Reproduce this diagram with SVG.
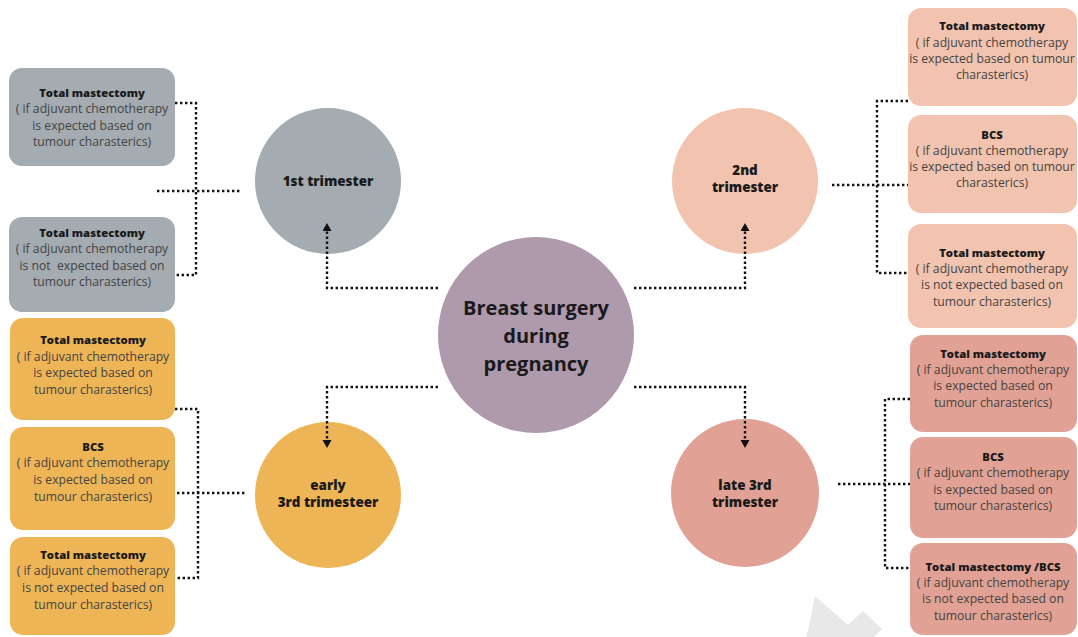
<svg xmlns="http://www.w3.org/2000/svg" width="1078" height="637" viewBox="0 0 1078 637">
<defs>
<marker id="arr" markerUnits="userSpaceOnUse" markerWidth="10" markerHeight="10" refX="0" refY="4.5" orient="auto"><path d="M0,0 L8,4.5 L0,9 z" fill="#111"/></marker>
<style>
.c{stroke:#111;stroke-width:2.4;fill:none;stroke-dasharray:2.4 2.6}
.t{font-family:"Open Sans","Liberation Sans",sans-serif;font-size:12.2px;fill:#444;text-anchor:middle}
.h{font-family:"Open Sans","Liberation Sans",sans-serif;font-size:11.3px;font-weight:800;fill:#1a1a1a;text-anchor:middle}
.ct{font-family:"Open Sans","Liberation Sans",sans-serif;font-size:13.4px;font-weight:800;fill:#1a1a1a;text-anchor:middle}
.mt{font-family:"Open Sans","Liberation Sans",sans-serif;font-size:20px;font-weight:700;fill:#1a1a1a;text-anchor:middle}
.g{fill:#a4abb1}.p{fill:#f2c3ae}.o{fill:#eeb557}.r{fill:#e1a295}
</style>
</defs>
<rect width="1078" height="637" fill="#fff"/>
<polygon points="815,596 848,625 863,611 882,629 874,637 806,637 808,630" fill="#e8e8e8"/>

<g id="center"><circle cx="536" cy="335" r="98" fill="#ae99ad"/>
<text class="mt" x="536" y="315">Breast surgery</text><text class="mt" x="536" y="343">during</text><text class="mt" x="536" y="371">pregnancy</text></g>

<g id="t1"><circle class="g" cx="328" cy="181" r="73"/><text class="ct" x="328" y="186">1st trimester</text></g>
<g id="t2"><circle class="p" cx="745" cy="181" r="73"/><text class="ct" x="745" y="175">2nd</text><text class="ct" x="745" y="192">trimester</text></g>
<g id="t3"><circle class="o" cx="328" cy="495" r="73"/><text class="ct" x="328" y="490">early</text><text class="ct" x="328" y="507">3rd trimesteer</text></g>
<g id="t4"><circle class="r" cx="745" cy="493" r="74"/><text class="ct" x="745" y="490">late 3rd</text><text class="ct" x="745" y="507">trimester</text></g>

<g id="g1"><rect class="g" x="9" y="68" width="166" height="98" rx="13"/>
<text class="h" x="92" y="97">Total mastectomy</text><text class="t" x="92" y="113">( if adjuvant chemotherapy</text><text class="t" x="92" y="130">is expected based on</text><text class="t" x="92" y="146">tumour charasterics)</text></g>
<g id="g2"><rect class="g" x="9" y="217" width="166" height="95" rx="13"/>
<text class="h" x="92" y="237">Total mastectomy</text><text class="t" x="92" y="253">( if adjuvant chemotherapy</text><text class="t" x="92" y="270" xml:space="preserve">is not  expected based on</text><text class="t" x="92" y="286">tumour charasterics)</text></g>

<g id="p1"><rect class="p" x="908" y="8" width="169" height="98" rx="13"/>
<text class="h" x="992" y="30">Total mastectomy</text><text class="t" x="992" y="47">( if adjuvant chemotherapy</text><text class="t" x="992" y="63">is expected based on tumour</text><text class="t" x="992" y="79">charasterics)</text></g>
<g id="p2"><rect class="p" x="908" y="115" width="169" height="98" rx="13"/>
<text class="h" x="992" y="139">BCS</text><text class="t" x="992" y="155">( if adjuvant chemotherapy</text><text class="t" x="992" y="171">is expected based on tumour</text><text class="t" x="992" y="187">charasterics)</text></g>
<g id="p3"><rect class="p" x="908" y="224" width="169" height="104" rx="13"/>
<text class="h" x="992" y="257">Total mastectomy</text><text class="t" x="992" y="273">( if adjuvant chemotherapy</text><text class="t" x="992" y="289">is not expected based on</text><text class="t" x="992" y="306">tumour charasterics)</text></g>

<g id="o1"><rect class="o" x="10" y="318" width="165" height="102" rx="13"/>
<text class="h" x="93" y="344">Total mastectomy</text><text class="t" x="93" y="361">( if adjuvant chemotherapy</text><text class="t" x="93" y="377">is expected based on</text><text class="t" x="93" y="394">tumour charasterics)</text></g>
<g id="o2"><rect class="o" x="10" y="427" width="165" height="103" rx="13"/>
<text class="h" x="93" y="451">BCS</text><text class="t" x="93" y="467">( if adjuvant chemotherapy</text><text class="t" x="93" y="484">is expected based on</text><text class="t" x="93" y="501">tumour charasterics)</text></g>
<g id="o3"><rect class="o" x="10" y="537" width="165" height="98" rx="13"/>
<text class="h" x="93" y="559">Total mastectomy</text><text class="t" x="93" y="575">( if adjuvant chemotherapy</text><text class="t" x="93" y="592">is not expected based on</text><text class="t" x="93" y="609">tumour charasterics)</text></g>

<g id="r1"><rect class="r" x="910" y="335" width="167" height="97" rx="13"/>
<text class="h" x="993" y="358">Total mastectomy</text><text class="t" x="993" y="374">( if adjuvant chemotherapy</text><text class="t" x="993" y="390">is expected based on</text><text class="t" x="993" y="407">tumour charasterics)</text></g>
<g id="r2"><rect class="r" x="910" y="437" width="167" height="101" rx="13"/>
<text class="h" x="993" y="461">BCS</text><text class="t" x="993" y="477">( if adjuvant chemotherapy</text><text class="t" x="993" y="494">is expected based on</text><text class="t" x="993" y="510">tumour charasterics)</text></g>
<g id="r3"><rect class="r" x="910" y="543" width="167" height="92" rx="13"/>
<text class="h" x="993" y="571">Total mastectomy /BCS</text><text class="t" x="993" y="587">( if adjuvant chemotherapy</text><text class="t" x="993" y="603">is not expected based on</text><text class="t" x="993" y="620">tumour charasterics)</text></g>

<g id="connectors">
<path class="c" d="M438,288 H327 V231" marker-end="url(#arr)"/>
<path class="c" d="M634,288 H745 V231" marker-end="url(#arr)"/>
<path class="c" d="M438,387 H327 V440" marker-end="url(#arr)"/>
<path class="c" d="M634,387 H745 V440" marker-end="url(#arr)"/>
<path class="c" d="M175,103 H196 V275 H175"/>
<path class="c" d="M157,191 H242"/>
<path class="c" d="M908,101 H877 V273 H907"/>
<path class="c" d="M832,185 H908"/>
<path class="c" d="M175,409 H198 V578 H175"/>
<path class="c" d="M177,493 H245"/>
<path class="c" d="M910,399 H885 V568 H910"/>
<path class="c" d="M838,484 H910"/>
</g>
</svg>
